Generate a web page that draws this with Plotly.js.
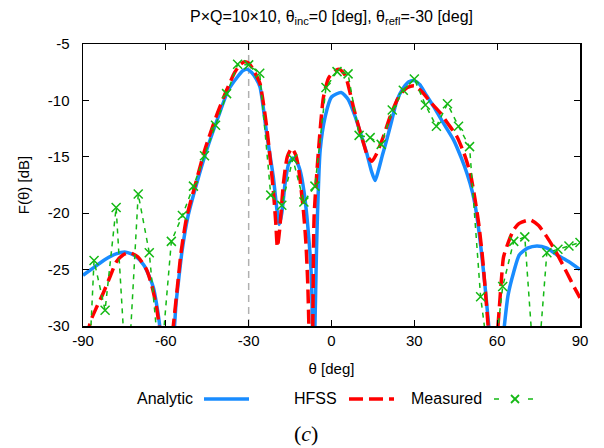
<!DOCTYPE html>
<html>
<head>
<meta charset="utf-8">
<script src="https://cdn.plot.ly/plotly-3.0.1.min.js"></script>
<style>html,body{margin:0;padding:0;background:#fff;}#chart{width:604px;height:448px;}</style>
</head>
<body>
<div id="chart"></div>
<script>
// ---- Data ----
const analyticTheta = [-90,-86,-82,-78,-74.5,-71,-68,-66,-64.5,-63,-62,-60,-58,-57,-56.3,-55.5,-54.1,-52,-48.8,-45.2,-41,-37.4,-34,-32,-30.5,-29,-27.5,-25.9,-23.5,-21.1,-19.8,-18.9,-18,-16.8,-15.5,-14,-12.7,-11.4,-10,-8.9,-7.8,-7.2,-6.6,-6.0,-5.5,-5.1,-4.1,-2.3,0,3.5,6,8.6,11,12.8,14.5,15.8,17,18.5,20,21.8,23.7,26,28,30,32,34,37,40.5,44.2,47,49.1,51,52.1,53.5,54.5,55.5,56.5,57.3,59.5,61.5,62.6,64,65.9,68,71,74.4,78,81.7,86,90];
const analyticDB = [-25.5,-24.8,-24.1,-23.6,-23.45,-23.8,-24.6,-25.6,-26.6,-28.6,-30.5,-42,-33,-30.5,-28,-26.2,-23.3,-20.3,-17.35,-14.4,-11.45,-9.1,-7.9,-7.35,-7.25,-7.5,-8.0,-8.8,-12.9,-16.75,-19.6,-21.0,-20.0,-17.35,-15.6,-15.1,-15.4,-16.2,-18.0,-20.3,-23.5,-26.2,-34,-30,-24,-20.3,-14.4,-11.45,-9.7,-9.3,-9.9,-11.45,-13.3,-14.7,-16.3,-17.1,-16.2,-14.8,-13.5,-11.8,-10.0,-8.9,-8.35,-8.25,-8.6,-9.4,-10.55,-12.0,-13.5,-15.1,-16.5,-18.1,-19.4,-21.8,-23.9,-26.2,-28.8,-31,-42,-33,-30.0,-27.2,-25.3,-23.7,-23.1,-22.9,-23.1,-23.7,-24.3,-25.0];

const hfssTheta = [-88.5,-87.3,-85,-82.7,-80,-77.9,-75.5,-73,-70,-67,-65,-63.4,-62.2,-60,-57.8,-57.3,-55.8,-54.4,-52.4,-49.2,-45.9,-41.8,-38,-35,-33,-31.5,-30,-28.5,-27,-25.9,-23.5,-21.1,-20.2,-19.6,-18.8,-17.4,-16,-14.4,-13,-12,-10.2,-9.3,-8.6,-8.1,-7.5,-6.8,-6.3,-4.7,-2.9,-1,1.5,3,5,7.9,9.8,11.6,13,14.6,16.2,18.8,21,23.7,25.5,27.5,30,33,36,39.4,42,45.4,48,50.3,52,53.3,54.6,55.7,56.5,57,58.5,60,60.6,61.5,62.3,64,65.9,68,72,75,78,81,85.3,88,90];
const hfssDB = [-31,-29.6,-28.3,-27.1,-25.5,-24.3,-23.7,-23.5,-23.9,-25.0,-26.5,-28.3,-30.5,-40,-31,-30,-26.5,-23.3,-20.3,-17.35,-14.4,-11.45,-9.1,-7.5,-6.8,-6.57,-6.7,-7.2,-7.9,-8.5,-12.3,-17.9,-20.8,-23.0,-21.5,-17.35,-15.0,-14.25,-14.8,-15.9,-19.7,-22.5,-26.2,-31,-40,-30.5,-20.3,-14.4,-9.7,-8.0,-7.35,-7.25,-7.8,-10.55,-12.3,-13.8,-14.9,-15.4,-14.8,-13.2,-11.6,-10.0,-9.3,-8.85,-8.7,-9.3,-10.2,-11.1,-12.0,-13.2,-14.7,-16.5,-18.8,-20.9,-23.7,-26.8,-29.3,-31,-40,-31,-29,-26,-23.9,-22.6,-21.5,-20.9,-20.6,-21.1,-22.1,-23.3,-25.3,-26.6,-27.5];

const measTheta = [-90,-86,-82,-78,-74,-70,-66,-62,-58,-54,-50,-46,-42,-38,-34,-30,-26,-22,-18,-14,-10,-6,-2,2,6,10,14,18,22,26,30,34,38,42,46,50,54,58,62,66,70,74,78,82,86,90];
const measDB = [-45,-24.2,-28.6,-19.5,-36,-18.3,-23.5,-34,-22.5,-20.2,-17.6,-14.9,-12.2,-9.4,-6.8,-6.85,-7.6,-18.4,-19.3,-15.2,-19.0,-17.6,-8.85,-7.45,-7.65,-13.1,-13.3,-13.9,-10.85,-9.1,-8.1,-10.4,-12.3,-10.3,-12.3,-14.1,-27.4,-35,-26.5,-22.5,-22.1,-36,-23.5,-23.2,-22.9,-22.6];

const xTicks = [-90,-60,-30,0,30,60,90];
const yTicks = [-5,-10,-15,-20,-25,-30];
const seriesNames = ['Analytic','HFSS','Measured'];
const reflAngle = -30;

// ---- Styles ----
const BLUE = 'rgb(25,140,255)';
const RED = 'rgb(255,0,0)';
const GREEN = 'rgb(20,185,20)';
const FONT = 'Liberation Sans, Arial, sans-serif';

const traces = [
  {x: analyticTheta, y: analyticDB, name: seriesNames[0], mode: 'lines',
   line: {color: BLUE, width: 3.5, shape: 'spline', smoothing: 0.6}},
  {x: hfssTheta, y: hfssDB, name: seriesNames[1], mode: 'lines',
   line: {color: RED, width: 3.5, dash: '14px,6px', shape: 'spline', smoothing: 0.6}},
  {x: measTheta, y: measDB, name: seriesNames[2], mode: 'lines+markers',
   line: {color: GREEN, width: 1.5, dash: '5px,5px'},
   marker: {symbol: 'x-thin-open', size: 9, color: GREEN, line: {color: GREEN, width: 1.5}}}
];

// plot area in px: left 83, right 580, top 44, bottom 326
const L = 83, R = 580, T = 44, B = 326;
const px2x = p => (p - L) / (R - L);
const py2y = p => (B - p) / (B - T);
const legY = py2y(399);

const shapes = [
  {type: 'line', xref: 'x', yref: 'paper', x0: reflAngle, x1: reflAngle, y0: 0, y1: 1,
   line: {color: '#b0b0b0', width: 1.5, dash: '7px,5px'}, layer: 'below'},
  // custom legend keys
  {type: 'line', xref: 'paper', yref: 'paper', x0: px2x(204), x1: px2x(249), y0: legY, y1: legY,
   line: {color: BLUE, width: 3.5}},
  {type: 'line', xref: 'paper', yref: 'paper', x0: px2x(349), x1: px2x(394), y0: legY, y1: legY,
   line: {color: RED, width: 3.5, dash: '14px,6px'}},
  {type: 'line', xref: 'paper', yref: 'paper', x0: px2x(494), x1: px2x(534), y0: legY, y1: legY,
   line: {color: GREEN, width: 1.5, dash: '5px,29px'}},
  {type: 'line', xref: 'paper', yref: 'paper', x0: px2x(511), x1: px2x(519), y0: py2y(395), y1: py2y(403),
   line: {color: GREEN, width: 1.8}},
  {type: 'line', xref: 'paper', yref: 'paper', x0: px2x(511), x1: px2x(519), y0: py2y(403), y1: py2y(395),
   line: {color: GREEN, width: 1.8}}
];

const annotations = [
  {text: seriesNames[0], xref: 'paper', yref: 'paper', x: px2x(195), y: legY, xanchor: 'right', yanchor: 'middle',
   showarrow: false, font: {family: FONT, size: 16, color: '#000'}},
  {text: seriesNames[1], xref: 'paper', yref: 'paper', x: px2x(339), y: legY, xanchor: 'right', yanchor: 'middle',
   showarrow: false, font: {family: FONT, size: 16, color: '#000'}},
  {text: seriesNames[2], xref: 'paper', yref: 'paper', x: px2x(484), y: legY, xanchor: 'right', yanchor: 'middle',
   showarrow: false, font: {family: FONT, size: 16, color: '#000'}},
  {text: '(<i>c</i>)', xref: 'paper', yref: 'paper', x: px2x(306), y: py2y(433), xanchor: 'center', yanchor: 'middle',
   showarrow: false, font: {family: 'Liberation Serif, Times New Roman, serif', size: 22, color: '#000'}}
];

const axisCommon = {
  showline: true, linecolor: '#000', linewidth: 1.5, mirror: 'ticks',
  ticks: 'inside', ticklen: 6, tickwidth: 1, tickcolor: '#000',
  showgrid: false, zeroline: false,
  tickfont: {family: FONT, size: 15, color: '#000'}
};

const layout = {
  width: 604, height: 448,
  margin: {l: L, r: 604 - R, t: T, b: 448 - B},
  paper_bgcolor: '#fff', plot_bgcolor: '#fff',
  showlegend: false,
  title: {text: 'P×Q=10×10, θ<sub>inc</sub>=0 [deg], θ<sub>refl</sub>=-30 [deg]',
          x: 0.5, xref: 'paper', y: 1 - 16/448, yanchor: 'middle',
          font: {family: FONT, size: 16, color: '#000'}},
  xaxis: Object.assign({}, axisCommon, {
    range: [-90, 90], tickvals: xTicks, ticktext: xTicks.map(String),
    title: {text: 'θ [deg]', font: {family: FONT, size: 15, color: '#000'}, standoff: 16}
  }),
  yaxis: Object.assign({}, axisCommon, {
    range: [-30, -5], tickvals: yTicks, ticktext: yTicks.map(String),
    ticklabelstandoff: 9,
    title: {text: 'F(θ) [dB]', font: {family: FONT, size: 15, color: '#000'}, standoff: 14}
  }),
  shapes: shapes,
  annotations: annotations
};

Plotly.newPlot('chart', traces, layout, {staticPlot: true, displayModeBar: false});
</script>
</body>
</html>
